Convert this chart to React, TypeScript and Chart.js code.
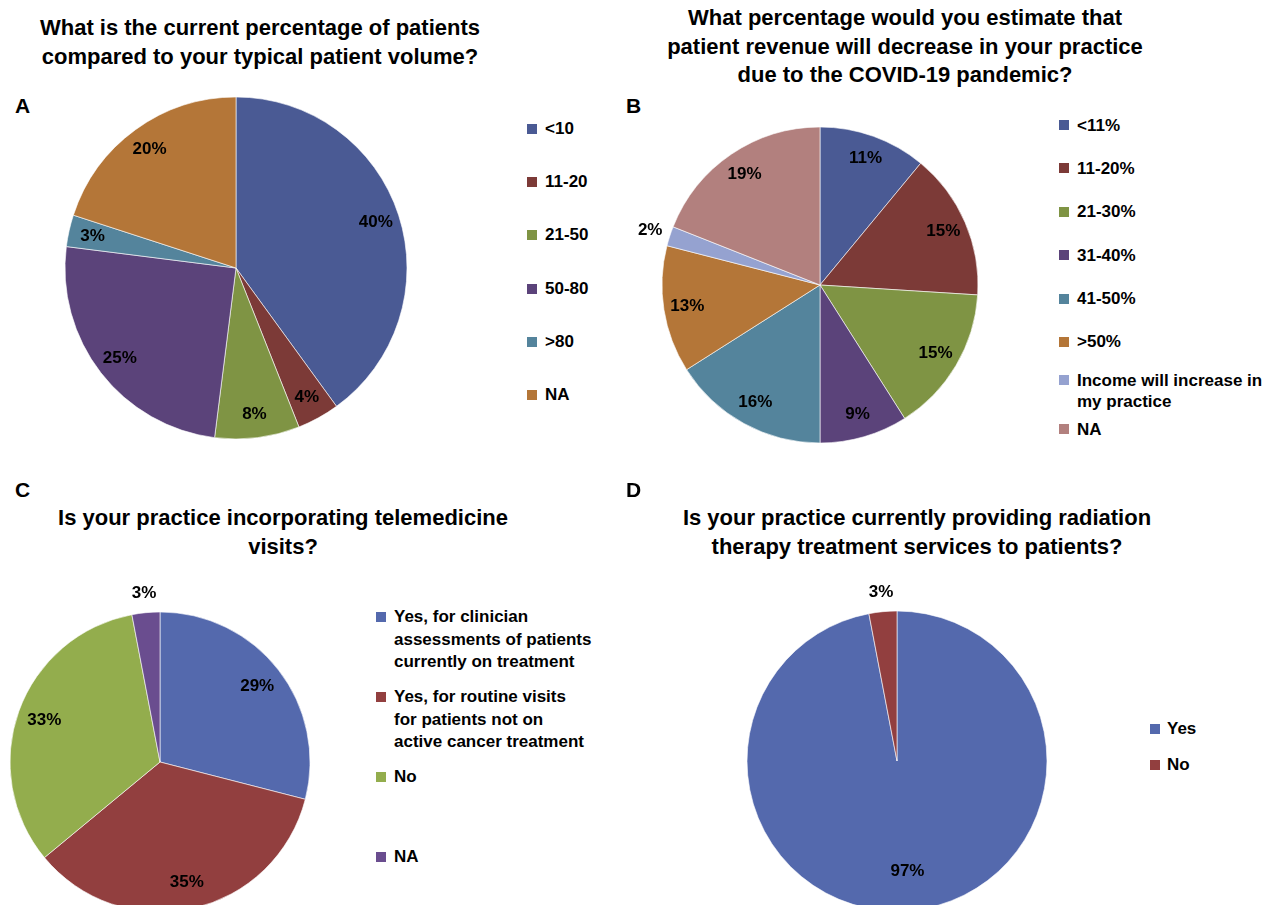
import { useEffect, useRef } from 'react'
import { Chart, ArcElement, PieController } from 'chart.js'
import type { Plugin } from 'chart.js'

Chart.register(ArcElement, PieController)

// A - patient volume
const volumeLabels = ['<10', '11-20', '21-50', '50-80', '>80', 'NA']
const volumeValues = [40, 4, 8, 25, 3, 20]

// B - revenue decrease
const revenueLabels = ['<11%', '11-20%', '21-30%', '31-40%', '41-50%', '>50%', 'Income will increase in\nmy practice', 'NA']
const revenueValues = [11, 15, 15, 9, 16, 13, 2, 19]

// C - telemedicine
const teleLabels = [
  'Yes, for clinician\nassessments of patients\ncurrently on treatment',
  'Yes, for routine visits\nfor patients not on\nactive cancer treatment',
  'No',
  'NA',
]
const teleValues = [29, 35, 33, 3]

// D - radiation therapy
const rtLabels = ['Yes', 'No']
const rtValues = [97, 3]

const darkPalette = ['#4A5A94', '#7C3A37', '#7F9444', '#5B437A', '#54849C', '#B47638', '#95A2D0', '#B2807E']
const lightPalette = ['#5469AD', '#923F3F', '#93AD4D', '#6A4D8F']

const FONT = '"Liberation Sans", Arial, sans-serif'

// draws the % value of every slice, inside or just outside the pie
const sliceLabels: Plugin<'pie'> = {
  id: 'sliceLabels',
  afterDatasetsDraw(chart, _args, opts: any) {
    const { ctx } = chart
    const meta = chart.getDatasetMeta(0)
    const values = chart.data.datasets[0].data as number[]
    ctx.save()
    ctx.font = `bold 17px ${FONT}`
    ctx.fillStyle = '#000'
    ctx.textAlign = 'center'
    ctx.textBaseline = 'middle'
    meta.data.forEach((arc: any, i: number) => {
      const p = arc.getProps(['x', 'y', 'startAngle', 'endAngle', 'outerRadius'], true)
      const mid = (p.startAngle + p.endAngle) / 2
      const f = (opts.outside || []).includes(i) ? opts.outsideFactor : opts.factor
      ctx.fillText(values[i] + '%', p.x + Math.cos(mid) * p.outerRadius * f, p.y + Math.sin(mid) * p.outerRadius * f)
    })
    ctx.restore()
  },
}

type PieProps = {
  labels: string[]
  values: number[]
  colors: string[]
  cx: number
  cy: number
  radius: number
  w: number
  h: number
  factor: number
  outside?: number[]
}

function Pie({ labels, values, colors, cx, cy, radius, w, h, factor, outside = [] }: PieProps) {
  const canvasRef = useRef<HTMLCanvasElement>(null)

  useEffect(() => {
    if (!canvasRef.current) return
    const chart = new Chart(canvasRef.current, {
      type: 'pie',
      data: {
        labels,
        datasets: [{
          data: values,
          backgroundColor: colors,
          borderColor: 'rgba(255,255,255,0.6)',
          borderWidth: 1,
          radius,
        }],
      },
      options: {
        responsive: false,
        animation: false,
        events: [],
        layout: { padding: 0 },
        plugins: {
          legend: { display: false },
          tooltip: { enabled: false },
          sliceLabels: { factor, outside, outsideFactor: 1.13 },
        } as any,
      },
      plugins: [sliceLabels],
    })
    return () => chart.destroy()
  }, [])

  return (
    <canvas
      ref={canvasRef}
      width={w}
      height={h}
      style={{ position: 'absolute', left: cx - w / 2, top: cy - h / 2 }}
    />
  )
}

type LegendProps = {
  labels: string[]
  colors: string[]
  left: number
  top: number
  slots: number[]
  lineHeight: number
  textOffset: number
}

function Legend({ labels, colors, left, top, slots, lineHeight, textOffset }: LegendProps) {
  return (
    <div style={{ position: 'absolute', left, top }}>
      {labels.map((l, i) => (
        <div key={l} style={{ position: 'relative', height: slots[Math.min(i, slots.length - 1)] }}>
          <div style={{
            position: 'absolute', left: 0, top: lineHeight / 2 - 5,
            width: 10, height: 10, background: colors[i],
          }} />
          <div style={{ marginLeft: textOffset, whiteSpace: 'pre', lineHeight: lineHeight + 'px', fontSize: 17 }}>{l}</div>
        </div>
      ))}
    </div>
  )
}

function Title({ text, cx, top }: { text: string; cx: number; top: number }) {
  return (
    <div style={{
      position: 'absolute', left: cx - 320, width: 640, top, textAlign: 'center',
      whiteSpace: 'pre', fontSize: 22, lineHeight: '28.5px',
    }}>{text}</div>
  )
}

function Letter({ ch, left, top }: { ch: string; left: number; top: number }) {
  return <div style={{ position: 'absolute', left, top, fontSize: 21, lineHeight: '21px' }}>{ch}</div>
}

export default function App() {
  return (
    <div style={{
      position: 'absolute', left: 0, top: 0, width: 1264, height: 905, overflow: 'hidden',
      background: '#fff', color: '#000', fontFamily: FONT, fontWeight: 'bold',
    }}>
      <Title text={'What is the current percentage of patients\ncompared to your typical patient volume?'} cx={260} top={14} />
      <Letter ch="A" left={15} top={95} />
      <Pie labels={volumeLabels} values={volumeValues} colors={darkPalette} cx={236} cy={268} radius={171} w={370} h={370} factor={0.86} />
      <Legend labels={volumeLabels} colors={darkPalette} left={527} top={119} slots={[53.2]} lineHeight={20} textOffset={18} />

      <Title text={'What percentage would you estimate that\npatient revenue will decrease in your practice\ndue to the COVID-19 pandemic?'} cx={905} top={4} />
      <Letter ch="B" left={626} top={95} />
      <Pie labels={revenueLabels} values={revenueValues} colors={darkPalette} cx={820} cy={285} radius={158} w={410} h={400} factor={0.85} outside={[6]} />
      <Legend labels={revenueLabels} colors={darkPalette} left={1059} top={114.5} slots={[43.4, 43.4, 43.4, 43.4, 43.4, 38.5, 49, 30]} lineHeight={21} textOffset={18} />

      <Letter ch="C" left={15} top={479} />
      <Title text={'Is your practice incorporating telemedicine\nvisits?'} cx={283} top={504} />
      <Pie labels={teleLabels} values={teleValues} colors={lightPalette} cx={160} cy={762} radius={150} w={320} h={390} factor={0.82} outside={[3]} />
      <Legend labels={teleLabels} colors={lightPalette} left={376} top={606} slots={[80]} lineHeight={22.5} textOffset={18} />

      <Letter ch="D" left={626} top={479} />
      <Title text={'Is your practice currently providing radiation\ntherapy treatment services to patients?'} cx={917} top={504} />
      <Pie labels={rtLabels} values={rtValues} colors={lightPalette} cx={897} cy={761} radius={150} w={340} h={390} factor={0.74} outside={[1]} />
      <Legend labels={rtLabels} colors={lightPalette} left={1150} top={719} slots={[36]} lineHeight={20} textOffset={17} />
    </div>
  )
}
